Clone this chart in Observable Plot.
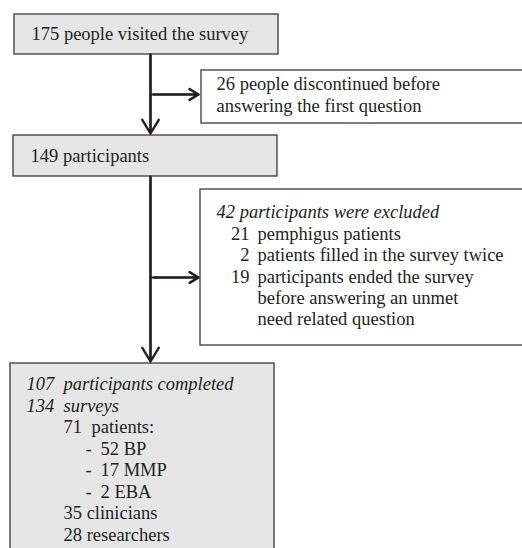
<!DOCTYPE html>
<html>
<head>
<meta charset="utf-8">
<script src="https://cdn.jsdelivr.net/npm/d3@7"></script>
<script src="https://cdn.jsdelivr.net/npm/@observablehq/plot@0.6"></script>
<style>
  html, body { margin: 0; padding: 0; background: #ffffff; }
  #chart svg { display: block; }
  #chart text { font-family: "Liberation Serif", "Times New Roman", serif !important; }
</style>
</head>
<body>
<div id="chart"></div>
<script>
// ---- Data (flow counts and labels) ----
const visitedCount = 175;
const visitedLabel = "people visited the survey";
const discontinuedCount = 26;
const discontinuedLines = ["people discontinued before", "answering the first question"];
const participantCount = 149;
const participantLabel = "participants";
const excludedCount = 42;
const excludedLabel = "participants were excluded";
const excludedReasonCounts = ["21", "2", "19", "", ""];
const excludedReasonLines = ["pemphigus patients", "patients filled in the survey twice", "participants ended the survey", "before answering an unmet", "need related question"];
const completedCounts = [107, 134];
const completedLabels = ["participants completed", "surveys"];
const groupCounts = [71, 35, 28];
const groupLabels = ["patients:", "clinicians", "researchers"];
const subtypeCounts = [52, 17, 2];
const subtypeLabels = ["BP", "MMP", "EBA"];

// ---- Layout (page geometry in pixels) ----
const W = 522, H = 548;
const FS = 18.5, LH = 21.5;
const ink = "#231f20";
const boxStroke = "#3a3a3a";
const grey = "#e6e6e7";

const boxes = [
  {x1: 14, x2: 278, y1: 14, y2: 54, fill: grey},
  {x1: 201, x2: 530, y1: 70, y2: 123, fill: "#ffffff"},
  {x1: 13, x2: 277, y1: 135, y2: 176, fill: grey},
  {x1: 200, x2: 530, y1: 189, y2: 345, fill: "#ffffff"},
  {x1: 10, x2: 274, y1: 363, y2: 560, fill: grey}
];

const trunkX = 150;
const shafts = [
  {x1: trunkX, y1: 54, x2: trunkX, y2: 133},
  {x1: trunkX, y1: 176, x2: trunkX, y2: 361}
];
const branches = [
  {x1: trunkX, y1: 94, x2: 198, y2: 94},
  {x1: trunkX, y1: 277, x2: 198, y2: 277}
];

// Text lines
const regular = [];
const italic = [];
regular.push({x: 31, y: 33.5, t: `${visitedCount} ${visitedLabel}`});
discontinuedLines.forEach((s, i) => regular.push({x: 216, y: 84 + i * LH, t: i === 0 ? `${discontinuedCount} ${s}` : s}));
regular.push({x: 30, y: 156, t: `${participantCount} ${participantLabel}`});
italic.push({x: 216, y: 212, t: `${excludedCount} ${excludedLabel}`});
const numsEnd = [];
excludedReasonLines.forEach((s, i) => {
  const yy = 233.5 + i * 21.3;
  regular.push({x: 257, y: yy, t: s});
  if (excludedReasonCounts[i]) numsEnd.push({x: 249, y: yy, t: excludedReasonCounts[i]});
});
completedCounts.forEach((c, i) => {
  italic.push({x: 26, y: 384 + i * LH, t: String(c)});
  italic.push({x: 63, y: 384 + i * LH, t: completedLabels[i]});
});
regular.push({x: 63, y: 384 + 2 * LH, t: String(groupCounts[0])});
regular.push({x: 91, y: 384 + 2 * LH, t: groupLabels[0]});
subtypeCounts.forEach((c, i) => {
  regular.push({x: 85, y: 384 + (3 + i) * LH, t: "-"});
  regular.push({x: 100, y: 384 + (3 + i) * LH, t: `${c} ${subtypeLabels[i]}`});
});
[1, 2].forEach((g, k) => {
  regular.push({x: 63, y: 384 + (6 + k) * LH, t: `${groupCounts[g]} ${groupLabels[g]}`});
});

const font = "'Liberation Serif', 'Times New Roman', serif";

const chart = Plot.plot({
  width: W,
  height: H,
  margin: 0,
  style: {fontFamily: font, background: "#ffffff"},
  x: {domain: [0, W], range: [0, W], axis: null},
  y: {domain: [0, H], range: [0, H], axis: null},
  marks: [
    Plot.rect(boxes, {x1: "x1", x2: "x2", y1: "y1", y2: "y2", fill: "fill", stroke: boxStroke, strokeWidth: 1.3}),
    Plot.link(shafts, {x1: "x1", y1: "y1", x2: "x2", y2: "y2", stroke: ink, strokeWidth: 2}),
    Plot.arrow(shafts, {x1: "x1", y1: "y1", x2: "x2", y2: "y2", stroke: ink, strokeWidth: 2.4, headLength: 10, headAngle: 62}),
    Plot.arrow(branches, {x1: "x1", y1: "y1", x2: "x2", y2: "y2", stroke: ink, strokeWidth: 1.6, headLength: 0.01}),
    Plot.arrow(branches, {x1: d => d.x2 - 45, y1: "y1", x2: "x2", y2: "y2", stroke: ink, strokeWidth: 2.6, headLength: 6, headAngle: 62}),
    Plot.text(regular, {x: "x", y: "y", text: "t", textAnchor: "start", lineAnchor: "middle", fontSize: FS, fill: ink, fontFamily: font}),
    Plot.text(numsEnd, {x: "x", y: "y", text: "t", textAnchor: "end", lineAnchor: "middle", fontSize: FS, fill: ink, fontFamily: font}),
    Plot.text(italic, {x: "x", y: "y", text: "t", textAnchor: "start", lineAnchor: "middle", fontSize: FS, fill: ink, fontFamily: font, fontStyle: "italic"})
  ]
});
document.getElementById("chart").appendChild(chart);
</script>
</body>
</html>
